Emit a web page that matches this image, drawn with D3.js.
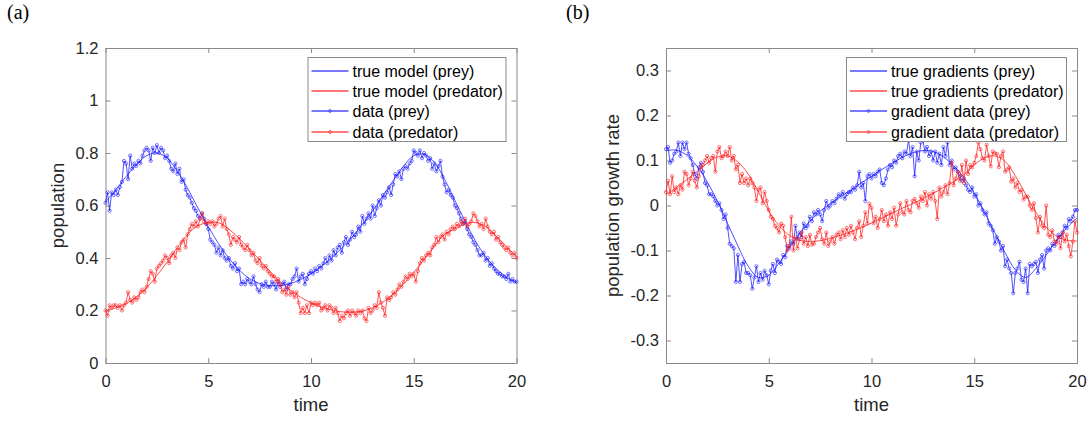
<!DOCTYPE html>
<html>
<head>
<meta charset="utf-8">
<script src="https://cdn.jsdelivr.net/npm/d3@7"></script>
<style>
  body { margin: 0; background: #fff; }
  svg { display: block; font-family: "Liberation Sans", Arial, sans-serif; }
</style>
</head>
<body>
<div id="chart"></div>
<script>
// sample times: noisy data every 0.1, true curves every 0.5
const dataTime = d3.range(0, 201).map(i => i / 10);
const modelTime = d3.range(0, 41).map(i => i / 2);

// (a) populations
const preyModel = [0.613, 0.66, 0.71, 0.755, 0.79, 0.80, 0.78, 0.73, 0.665, 0.59,
  0.52, 0.455, 0.40, 0.355, 0.322, 0.303, 0.295, 0.295, 0.303, 0.318,
  0.34, 0.368, 0.40, 0.438, 0.48, 0.528, 0.58, 0.638, 0.695, 0.75,
  0.79, 0.795, 0.765, 0.70, 0.62, 0.54, 0.465, 0.405, 0.36, 0.328, 0.305];
const predModel = [0.20, 0.21, 0.226, 0.252, 0.287, 0.333, 0.385, 0.44, 0.49, 0.523,
  0.535, 0.535, 0.51, 0.475, 0.435, 0.392, 0.35, 0.31, 0.277, 0.25,
  0.23, 0.213, 0.202, 0.195, 0.193, 0.198, 0.21, 0.232, 0.262, 0.30,
  0.345, 0.395, 0.445, 0.49, 0.51, 0.53, 0.535, 0.52, 0.485, 0.445, 0.405];
const preyData = [
  0.61, 0.65, 0.58, 0.65, 0.64, 0.66, 0.64, 0.67, 0.69, 0.77,
  0.76, 0.70, 0.79, 0.74, 0.76, 0.75, 0.77, 0.76, 0.79, 0.81,
  0.82, 0.81, 0.77, 0.82, 0.80, 0.83, 0.80, 0.82, 0.81, 0.78,
  0.79, 0.77, 0.74, 0.73, 0.76, 0.72, 0.74, 0.69, 0.70, 0.66,
  0.64, 0.63, 0.61, 0.59, 0.58, 0.56, 0.55, 0.57, 0.55, 0.53,
  0.51, 0.47, 0.46, 0.45, 0.42, 0.44, 0.41, 0.43, 0.40, 0.39,
  0.40, 0.37, 0.36, 0.38, 0.35, 0.36, 0.30, 0.31, 0.30, 0.32,
  0.31, 0.30, 0.33, 0.30, 0.28, 0.27, 0.30, 0.29, 0.31, 0.29,
  0.29, 0.31, 0.30, 0.28, 0.31, 0.29, 0.30, 0.31, 0.28, 0.30,
  0.30, 0.32, 0.33, 0.36, 0.31, 0.33, 0.34, 0.30, 0.32, 0.34,
  0.35, 0.34, 0.36, 0.35, 0.37, 0.36, 0.38, 0.40, 0.38, 0.41,
  0.39, 0.43, 0.41, 0.44, 0.45, 0.42, 0.46, 0.48, 0.45, 0.47,
  0.50, 0.48, 0.49, 0.52, 0.50, 0.56, 0.53, 0.55, 0.57, 0.55,
  0.60, 0.56, 0.59, 0.62, 0.60, 0.64, 0.63, 0.65, 0.67, 0.64,
  0.68, 0.72, 0.71, 0.73, 0.70, 0.74, 0.75, 0.74, 0.76, 0.77,
  0.81, 0.80, 0.79, 0.81, 0.78, 0.80, 0.79, 0.77, 0.78, 0.74,
  0.76, 0.73, 0.75, 0.77, 0.71, 0.68, 0.65, 0.66, 0.64, 0.63,
  0.60, 0.59, 0.57, 0.55, 0.53, 0.54, 0.51, 0.49, 0.48, 0.46,
  0.45, 0.43, 0.41, 0.41, 0.42, 0.39, 0.40, 0.37, 0.38, 0.36,
  0.35, 0.34, 0.34, 0.33, 0.33, 0.32, 0.34, 0.31, 0.32, 0.31,
  0.31];
const predData = [
  0.20, 0.18, 0.22, 0.21, 0.22, 0.22, 0.21, 0.22, 0.20, 0.22,
  0.23, 0.27, 0.24, 0.23, 0.25, 0.24, 0.25, 0.27, 0.28, 0.27,
  0.29, 0.32, 0.35, 0.34, 0.31, 0.36, 0.37, 0.38, 0.39, 0.41,
  0.40, 0.38, 0.41, 0.42, 0.40, 0.44, 0.43, 0.46, 0.47, 0.44,
  0.49, 0.51, 0.53, 0.52, 0.54, 0.52, 0.55, 0.57, 0.54, 0.53,
  0.54, 0.53, 0.54, 0.52, 0.53, 0.55, 0.56, 0.52, 0.55, 0.51,
  0.49, 0.45, 0.48, 0.47, 0.46, 0.48, 0.45, 0.44, 0.43, 0.45,
  0.43, 0.41, 0.42, 0.39, 0.38, 0.40, 0.37, 0.36, 0.37, 0.35,
  0.34, 0.33, 0.33, 0.31, 0.32, 0.30, 0.27, 0.28, 0.26, 0.29,
  0.26, 0.27, 0.25, 0.27, 0.23, 0.19, 0.21, 0.19, 0.22, 0.19,
  0.23, 0.22, 0.23, 0.22, 0.23, 0.20, 0.21, 0.22, 0.20, 0.22,
  0.21, 0.19, 0.21, 0.19, 0.16, 0.18, 0.17, 0.19, 0.20, 0.18,
  0.20, 0.19, 0.18, 0.20, 0.19, 0.20, 0.17, 0.16, 0.21, 0.19,
  0.20, 0.22, 0.21, 0.27, 0.23, 0.21, 0.18, 0.25, 0.24, 0.25,
  0.27, 0.26, 0.28, 0.30, 0.29, 0.31, 0.33, 0.32, 0.34, 0.33,
  0.34, 0.31, 0.35, 0.38, 0.40, 0.39, 0.41, 0.42, 0.41, 0.44,
  0.45, 0.48, 0.46, 0.48, 0.49, 0.47, 0.50, 0.49, 0.51, 0.52,
  0.51, 0.53, 0.52, 0.54, 0.53, 0.55, 0.52, 0.53, 0.54, 0.57,
  0.56, 0.54, 0.52, 0.53, 0.51, 0.55, 0.52, 0.50, 0.49, 0.50,
  0.47, 0.48, 0.46, 0.45, 0.44, 0.43, 0.44, 0.42, 0.41, 0.42,
  0.40];

// (b) growth rates
const preyGradModel = [0.122, 0.123, 0.112, 0.088, 0.053, 0.01, -0.04, -0.09, -0.135, -0.16,
  -0.155, -0.128, -0.095, -0.062, -0.035, -0.013, 0.005, 0.02, 0.035, 0.05,
  0.065, 0.08, 0.094, 0.107, 0.117, 0.122, 0.12, 0.108, 0.088, 0.062,
  0.028, -0.015, -0.06, -0.105, -0.143, -0.16, -0.14, -0.11, -0.078, -0.05, -0.028];
const predGradModel = [0.024, 0.04, 0.057, 0.075, 0.094, 0.108, 0.11, 0.097, 0.07, 0.03,
  -0.012, -0.045, -0.066, -0.077, -0.08, -0.078, -0.073, -0.066, -0.058, -0.049,
  -0.039, -0.028, -0.017, -0.006, 0.004, 0.015, 0.027, 0.04, 0.053, 0.069,
  0.09, 0.106, 0.11, 0.098, 0.066, 0.025, -0.015, -0.048, -0.068, -0.077, -0.079];
const preyGradData = [
  0.125, 0.13, 0.095, 0.10, 0.115, 0.12, 0.14, 0.11, 0.14, 0.125,
  0.14, 0.115, 0.105, 0.09, 0.07, 0.06, 0.085, 0.095, 0.075, 0.05,
  0.045, 0.025, 0.025, 0.02, 0.01, 0.0, 0.005, -0.01, -0.03, -0.02,
  -0.05, -0.085, -0.09, -0.095, -0.17, -0.11, -0.17, -0.13, -0.125, -0.15,
  -0.15, -0.155, -0.185, -0.16, -0.135, -0.17, -0.15, -0.165, -0.145, -0.155,
  -0.175, -0.145, -0.13, -0.15, -0.12, -0.125, -0.13, -0.11, -0.115, -0.09,
  -0.095, -0.08, -0.085, -0.045, -0.075, -0.06, -0.07, -0.04, -0.05, -0.045,
  -0.025, -0.035, -0.015, -0.02, -0.01, -0.02, -0.035, -0.01, 0.01, -0.005,
  0.0, 0.01, 0.005, 0.015, 0.025, 0.02, 0.03, 0.015, 0.025, 0.03,
  0.03, 0.04, 0.035, 0.045, 0.075, 0.04, 0.05, 0.01, 0.065, 0.07,
  0.06, 0.07, 0.065, 0.075, 0.08, 0.05, 0.045, 0.06, 0.08, 0.09,
  0.085, 0.10, 0.095, 0.11, 0.115, 0.105, 0.12, 0.115, 0.145, 0.11,
  0.13, 0.065, 0.12, 0.10, 0.14, 0.145, 0.12, 0.13, 0.11, 0.12,
  0.10, 0.12, 0.095, 0.115, 0.09, 0.13, 0.11, 0.14, 0.09, 0.10,
  0.08, 0.085, 0.075, 0.065, 0.055, 0.06, 0.045, 0.035, 0.03, 0.04,
  0.02, 0.025, 0.0, 0.005, -0.01, -0.02, -0.015, -0.04, -0.045, -0.055,
  -0.085, -0.07, -0.08, -0.10, -0.09, -0.135, -0.12, -0.14, -0.15, -0.195,
  -0.15, -0.14, -0.125, -0.165, -0.17, -0.14, -0.195, -0.13, -0.135, -0.13,
  -0.125, -0.15, -0.12, -0.11, -0.14, -0.10, -0.095, -0.10, -0.085, -0.09,
  -0.08, -0.065, -0.07, -0.06, -0.045, -0.05, -0.03, -0.035, -0.025, -0.01,
  -0.01];
const predGradData = [
  0.03, 0.055, 0.025, 0.065, 0.03, 0.04, 0.025, 0.045, 0.035, 0.075,
  0.07, 0.045, 0.06, 0.075, 0.055, 0.04, 0.065, 0.085, 0.09, 0.10,
  0.11, 0.095, 0.105, 0.11, 0.075, 0.12, 0.13, 0.105, 0.11, 0.12,
  0.11, 0.13, 0.10, 0.11, 0.08, 0.09, 0.05, 0.07, 0.05, 0.06,
  0.045, 0.06, 0.05, 0.04, 0.01, 0.035, 0.04, 0.005, 0.03, 0.01,
  -0.01, -0.025, -0.03, -0.045, -0.05, -0.06, -0.04, -0.045, -0.07, -0.10,
  -0.09, -0.025, -0.10, -0.07, -0.095, -0.075, -0.06, -0.085, -0.07, -0.09,
  -0.065, -0.087, -0.085, -0.07, -0.06, -0.05, -0.075, -0.085, -0.06, -0.09,
  -0.08, -0.07, -0.085, -0.065, -0.06, -0.075, -0.055, -0.07, -0.05, -0.065,
  -0.045, -0.06, -0.075, -0.05, -0.035, -0.07, -0.045, -0.015, -0.04, 0.004,
  -0.005, -0.04, -0.025, -0.05, -0.03, -0.01, -0.035, -0.02, -0.045, -0.015,
  -0.03, -0.005, -0.045, -0.02, 0.005, -0.015, -0.02, 0.01, -0.01, -0.015,
  0.01, 0.015, 0.005, -0.005, 0.02, 0.01, 0.03, 0.0, 0.025, 0.015,
  0.03, 0.01, -0.03, 0.04, 0.02, 0.03, 0.045, 0.025, 0.05, 0.095,
  0.045, 0.06, 0.075, 0.055, 0.09, 0.05, 0.10, 0.07, 0.09, 0.085,
  0.095, 0.11, 0.14, 0.125, 0.105, 0.10, 0.135, 0.11, 0.087, 0.12,
  0.116, 0.115, 0.085, 0.11, 0.12, 0.075, 0.08, 0.085, 0.053, 0.06,
  0.04, 0.05, 0.03, 0.035, 0.013, 0.02, 0.02, 0.0, -0.01, 0.005,
  -0.028, -0.06, -0.025, -0.045, -0.05, 0.0, -0.065, -0.07, -0.055, -0.08,
  -0.085, -0.07, -0.095, -0.06, -0.08, -0.065, -0.09, -0.113, -0.08, -0.035,
  -0.06];

const xTicks = [0, 5, 10, 15, 20];
const popTicks = [0, 0.2, 0.4, 0.6, 0.8, 1, 1.2];
const gradTicks = [-0.3, -0.2, -0.1, 0, 0.1, 0.2, 0.3];

const W = 1091, H = 421;
const svg = d3.select('#chart').append('svg')
  .attr('width', W).attr('height', H);

const BLUE = '#1a1aff', RED = '#ff1a1a', AXIS = '#262626', BOX = '#8a8a8a';

function drawPanel(opt) {
  const x = d3.scaleLinear().domain([0, 20]).range([opt.left, opt.right]);
  const y = d3.scaleLinear().domain(opt.yDomain).range([363, 48]);
  const g = svg.append('g');

  // tick marks inside on all four sides
  const tk = 5;
  g.append('g').attr('transform', `translate(0,${y.range()[0]})`)
    .call(d3.axisBottom(x).tickValues(xTicks).tickSizeInner(-tk).tickSizeOuter(0).tickPadding(12))
    .call(a => a.select('.domain').remove());
  g.append('g').attr('transform', `translate(0,${y.range()[1]})`)
    .call(d3.axisTop(x).tickValues(xTicks).tickSizeInner(-tk).tickSizeOuter(0).tickFormat(''))
    .call(a => a.select('.domain').remove());
  g.append('g').attr('transform', `translate(${opt.left},0)`)
    .call(d3.axisLeft(y).tickValues(opt.yTicks).tickSizeInner(-tk).tickSizeOuter(0).tickPadding(7)
      .tickFormat(d => d3.format('~g')(d).replace('−', '-')))
    .call(a => a.select('.domain').remove());
  g.append('g').attr('transform', `translate(${opt.right},0)`)
    .call(d3.axisRight(y).tickValues(opt.yTicks).tickSizeInner(-tk).tickSizeOuter(0).tickFormat(''))
    .call(a => a.select('.domain').remove());
  g.selectAll('.tick line').attr('stroke', BOX);
  g.selectAll('.tick text').attr('fill', AXIS).style('font-size', '16.5px')
    .style('font-family', '"Liberation Sans", Arial, sans-serif');

  g.append('rect')
    .attr('x', opt.left + 0.5).attr('y', 48.5)
    .attr('width', opt.right - opt.left).attr('height', 315)
    .attr('fill', 'none').attr('stroke', BOX);

  const line = d3.line().x(d => x(d[0])).y(d => y(d[1]));
  const smooth = d3.line().x(d => x(d[0])).y(d => y(d[1])).curve(d3.curveCatmullRom);

  const series = [
    { t: modelTime, v: opt.models[0], c: BLUE, marks: false, gen: smooth },
    { t: modelTime, v: opt.models[1], c: RED, marks: false, gen: smooth },
    { t: dataTime, v: opt.data[0], c: BLUE, marks: true, gen: line },
    { t: dataTime, v: opt.data[1], c: RED, marks: true, gen: line }
  ];
  series.forEach(s => {
    const pts = s.t.map((t, i) => [t, s.v[i]]);
    g.append('path').attr('d', s.gen(pts))
      .attr('fill', 'none').attr('stroke', s.c).attr('stroke-width', 0.9)
      .attr('stroke-opacity', 0.85);
    if (s.marks) {
      g.append('g').selectAll('circle').data(pts).join('circle')
        .attr('cx', d => x(d[0])).attr('cy', d => y(d[1])).attr('r', 1.6)
        .attr('fill', 'none').attr('stroke', s.c).attr('stroke-width', 0.7)
        .attr('stroke-opacity', 0.85);
    }
  });

  // axis labels
  g.append('text').attr('x', (opt.left + opt.right) / 2).attr('y', 411)
    .attr('text-anchor', 'middle').attr('fill', AXIS).style('font-size', '18.5px')
    .text('time');
  g.append('text')
    .attr('transform', `translate(${opt.ylabelX},205.5) rotate(-90)`)
    .attr('text-anchor', 'middle').attr('fill', AXIS).style('font-size', '18.5px')
    .text(opt.ylabel);

  // panel letter
  svg.append('text').attr('x', opt.letterX).attr('y', 19)
    .style('font-family', '"Liberation Serif", "Times New Roman", serif')
    .style('font-size', '20px').attr('fill', '#000').text(opt.letter);

  // legend
  const lg = g.append('g');
  lg.append('rect').attr('x', opt.legend.x + 0.5).attr('y', 57.5)
    .attr('width', opt.legend.w).attr('height', 84)
    .attr('fill', '#fff').attr('stroke', BOX);
  const rowY = [71, 91, 111, 132];
  opt.legend.labels.forEach((lab, i) => {
    const c = i % 2 === 0 ? '#4d4dff' : '#ff4d4d';
    const x0 = opt.legend.x + 4, x1 = x0 + 37, cy = rowY[i];
    lg.append('rect').attr('x', x0).attr('y', cy - 0.75).attr('width', x1 - x0).attr('height', 1.5)
      .attr('fill', c);
    if (i >= 2) {
      lg.append('circle').attr('cx', (x0 + x1) / 2).attr('cy', cy).attr('r', 1.4)
        .attr('fill', 'none').attr('stroke', c).attr('stroke-width', 0.9);
    }
    lg.append('text').attr('x', x1 + 4).attr('y', cy).attr('dy', '0.35em')
      .attr('fill', '#000').style('font-size', '16px').text(lab);
  });
}

drawPanel({
  left: 105.5, right: 516.5, yDomain: [0, 1.2], yTicks: popTicks,
  models: [preyModel, predModel], data: [preyData, predData],
  ylabel: 'population', ylabelX: 64, letter: '(a)', letterX: 7,
  legend: { x: 307.5, w: 198, labels: ['true model (prey)', 'true model (predator)', 'data (prey)', 'data (predator)'] }
});
drawPanel({
  left: 666, right: 1077, yDomain: [-0.35, 0.35], yTicks: gradTicks,
  models: [preyGradModel, predGradModel], data: [preyGradData, predGradData],
  ylabel: 'population growth rate', ylabelX: 619, letter: '(b)', letterX: 566,
  legend: { x: 846, w: 220, labels: ['true gradients (prey)', 'true gradients (predator)', 'gradient data (prey)', 'gradient data (predator)'] }
});
</script>
</body>
</html>
